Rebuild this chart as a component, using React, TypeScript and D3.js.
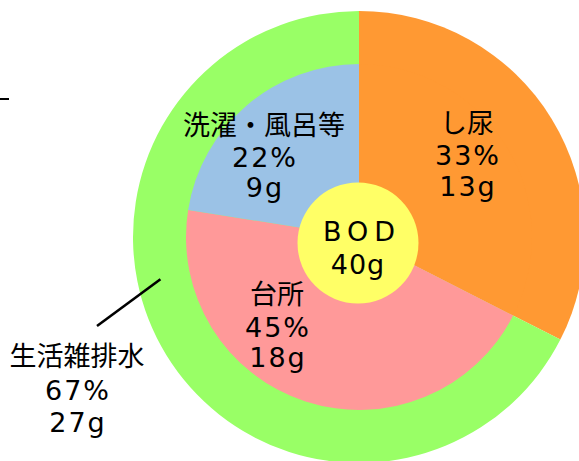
import React from "react";
import * as d3 from "d3";

// ---- data ----
const outerNames = ["し尿", "生活雑排水"];
const outerValues = [13, 27];
const outerPct = ["33%", "67%"];

const innerNames = ["し尿", "台所", "洗濯・風呂等"];
const innerValues = [13, 18, 9];
const innerPct = ["33%", "45%", "22%"];

const centerTitle = "BOD";
const centerTotal = 40;

// ---- styles / layout ----
const W = 579;
const H = 461;
const cx = 359;
const cy = 237;
const rOuter = 226;
const rInner = 173;
const rCenter = 60.5;
const outerColors = ["#FF9933", "#99FF66"];
const innerColors = ["#FF9933", "#FF9999", "#9BC2E6"];
const CJK = "'Noto Sans CJK JP', sans-serif";
const LAT = "'DejaVu Sans', 'Noto Sans', sans-serif";
const FS = 27;
const LS = 2;

type Lbl = { x: number; ys: number[]; lines: string[] };

export default function App() {
  const pie = d3
    .pie<number>()
    .sort(null)
    .value((d) => d)
    .startAngle(0)
    .endAngle(2 * Math.PI);
  const outerArcs = pie(outerValues);
  const innerArcs = pie(innerValues);
  const arcOuter = d3.arc<d3.PieArcDatum<number>>().innerRadius(0).outerRadius(rOuter);
  const arcInner = d3.arc<d3.PieArcDatum<number>>().innerRadius(0).outerRadius(rInner);

  const labels: Lbl[] = [
    { x: 467, ys: [133, 164.5, 195.5], lines: [innerNames[0], innerPct[0], `${innerValues[0]}g`] },
    { x: 277, ys: [304, 336.5, 367], lines: [innerNames[1], innerPct[1], `${innerValues[1]}g`] },
    { x: 264, ys: [135, 166.5, 196.5], lines: [innerNames[2], innerPct[2], `${innerValues[2]}g`] },
    { x: 77, ys: [366, 399.5, 432], lines: [outerNames[1], outerPct[1], `${outerValues[1]}g`] },
  ];

  // leader line for outer green ring
  const leadAngle = (258 * Math.PI) / 180;
  const leadR = 203;
  const lx1 = cx + leadR * Math.sin(leadAngle);
  const ly1 = cy - leadR * Math.cos(leadAngle);

  return (
    <svg
      width={W}
      height={H}
      style={{ position: "absolute", left: 0, top: 0, display: "block", background: "#fff" }}
    >
      <g transform={`translate(${cx},${cy})`}>
        {outerArcs.map((a, i) => (
          <path key={"o" + i} d={arcOuter(a) || ""} fill={outerColors[i]} />
        ))}
        {innerArcs.map((a, i) => (
          <path key={"i" + i} d={arcInner(a) || ""} fill={innerColors[i]} />
        ))}
      </g>
      <circle cx={cx - 1} cy={cy + 6} r={rCenter} fill="#FFFF66" />
      <text x={cx + 3} y={241} textAnchor="middle" fontFamily={LAT} fontSize={FS} letterSpacing={6} fill="#000">
        {centerTitle}
      </text>
      <text x={cx - 2 + 1} y={273.5} textAnchor="middle" fontFamily={LAT} fontSize={FS} letterSpacing={1} fill="#000">
        {`${centerTotal}g`}
      </text>
      {labels.map((l, i) => (
        <g key={"l" + i}>
          {l.lines.map((t, j) => (
            <text
              key={j}
              x={j === 0 ? l.x : l.x + LS / 2}
              y={l.ys[j]}
              textAnchor="middle"
              fontFamily={j === 0 ? CJK : LAT}
              fontSize={FS}
              letterSpacing={j === 0 ? 0 : LS}
              fill="#000"
            >
              {t}
            </text>
          ))}
        </g>
      ))}
      <line x1={97} y1={326} x2={lx1} y2={ly1} stroke="#000" strokeWidth={2.6} />
      <line x1={0} y1={99} x2={9} y2={99} stroke="#000" strokeWidth={2} />
    </svg>
  );
}
